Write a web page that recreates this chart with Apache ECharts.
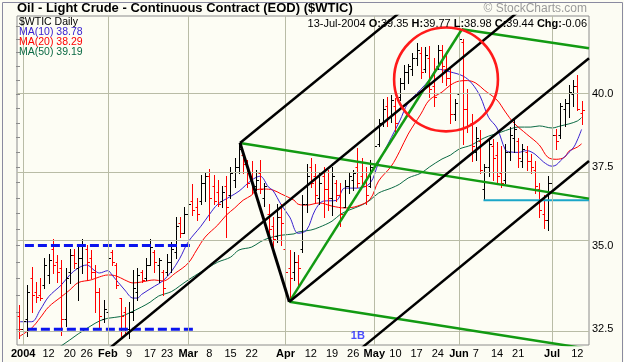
<!DOCTYPE html>
<html><head><meta charset="utf-8">
<script src="https://cdn.jsdelivr.net/npm/echarts@6/dist/echarts.min.js"></script>
<style>html,body{margin:0;padding:0;background:#fcfcf3}#c{width:624px;height:362px}</style>
</head><body><div id="c"></div>
<script>
// ---------- DATA ----------
const dates = ['12-31',
'01-02','01-05','01-06','01-07','01-08','01-09','01-12','01-13','01-14','01-15','01-16','01-20','01-21','01-22','01-23','01-26','01-27','01-28','01-29','01-30',
'02-02','02-03','02-04','02-05','02-06','02-09','02-10','02-11','02-12','02-13','02-17','02-18','02-19','02-20','02-23','02-24','02-25','02-26','02-27',
'03-01','03-02','03-03','03-04','03-05','03-08','03-09','03-10','03-11','03-12','03-15','03-16','03-17','03-18','03-19','03-22','03-23','03-24','03-25','03-26','03-29','03-30','03-31',
'04-01','04-02','04-05','04-06','04-07','04-08','04-12','04-13','04-14','04-15','04-16','04-19','04-20','04-21','04-22','04-23','04-26','04-27','04-28','04-29','04-30',
'05-03','05-04','05-05','05-06','05-07','05-10','05-11','05-12','05-13','05-14','05-17','05-18','05-19','05-20','05-21','05-24','05-25','05-26','05-27','05-28',
'06-01','06-02','06-03','06-04','06-07','06-08','06-09','06-10','06-11','06-14','06-15','06-16','06-17','06-18','06-21','06-22','06-23','06-24','06-25','06-28','06-29','06-30',
'07-01','07-02','07-06','07-07','07-08','07-09','07-12','07-13'];

const open = [32.9,32.5,32.8,34.0,33.6,33.5,33.8,34.1,34.9,34.5,34.3,32.8,34.2,34.7,34.3,34.6,34.9,34.6,34.2,33.6,32.8,
33.0,34.8,34.4,33.4,33.0,32.5,33.0,33.6,34.2,34.0,34.4,34.8,34.4,34.2,34.2,34.5,34.8,35.7,35.4,
36.0,36.4,36.2,36.4,37.0,37.2,36.9,36.7,36.4,36.9,36.6,37.1,37.5,37.9,37.6,37.2,36.9,37.3,36.5,36.0,35.6,35.3,35.9,
34.9,34.3,34.2,34.5,34.9,36.3,37.5,37.2,36.5,37.2,36.8,36.5,37.0,36.6,36.2,36.9,37.1,37.5,37.2,36.9,36.9,
37.6,38.3,39.0,39.6,39.2,39.6,39.9,40.4,40.8,40.9,41.3,41.5,40.9,41.3,40.3,41.0,41.6,40.9,40.6,39.3,
40.0,41.9,39.5,39.0,38.0,38.4,36.8,37.5,38.2,37.9,37.3,37.1,38.0,38.5,38.4,37.7,38.0,37.7,37.4,36.8,36.0,35.8,
37.0,38.6,38.6,39.5,39.7,40.0,40.3,39.35];
const high = [33.2,32.95,33.8,34.35,33.9,34.0,34.6,34.75,35.2,34.7,34.55,34.3,34.9,34.9,34.95,35.2,35.0,34.85,34.4,33.7,33.35,
35.0,34.85,34.45,33.4,33.15,33.3,34.25,34.3,34.25,34.6,35.2,34.85,34.6,34.25,34.75,35.1,35.9,35.9,36.2,
36.45,36.95,36.5,37.25,37.3,37.45,37.25,37.1,36.9,37.2,37.5,37.8,38.32,37.95,37.75,37.7,37.4,37.75,37.0,36.3,35.9,36.3,36.3,
34.95,34.85,34.8,34.7,36.6,37.6,37.8,37.6,37.3,37.5,37.4,37.5,37.1,37.0,37.1,37.35,37.4,38.15,37.8,37.5,37.75,
38.4,39.15,39.85,39.9,39.97,39.87,40.6,41.05,41.1,41.5,41.85,41.7,41.7,41.75,41.3,41.8,41.8,41.4,40.9,39.85,
42.35,42.0,40.2,39.3,38.85,38.75,37.6,38.5,38.45,38.35,38.2,38.3,38.85,39.1,38.5,38.3,38.2,37.95,37.7,37.0,36.6,37.2,
39.0,38.8,39.7,39.85,40.35,40.5,40.7,39.77];
const low = [32.26,32.3,32.3,33.0,33.3,33.35,33.7,33.85,34.15,33.9,32.35,32.6,33.85,34.3,33.35,34.15,33.95,34.0,33.0,32.55,32.7,
32.5,34.4,33.7,32.3,32.35,32.26,32.77,33.35,33.9,33.94,34.4,34.2,33.9,33.5,34.1,34.2,34.6,35.25,35.4,
35.7,35.95,35.8,36.3,36.4,35.8,36.3,36.25,36.2,35.25,36.5,36.85,37.3,37.3,36.85,36.65,36.75,36.65,36.25,35.2,34.95,35.1,35.0,
33.85,33.3,33.95,33.8,34.8,36.05,36.85,36.35,36.3,35.9,36.1,35.95,36.4,35.6,36.2,36.65,36.75,36.85,36.85,36.3,36.85,
37.5,38.2,38.9,38.9,39.05,38.6,39.8,40.2,40.4,40.7,41.05,40.6,40.8,39.9,39.6,40.9,40.45,40.35,39.0,39.1,
39.8,38.3,38.7,37.7,37.75,37.3,36.43,37.2,37.1,37.0,36.85,37.0,37.75,38.0,37.5,37.5,37.4,37.3,36.65,35.9,35.55,35.48,
36.9,38.1,38.5,38.9,39.2,39.6,39.45,38.98];
const close = [32.52,32.75,33.6,33.5,33.45,33.4,34.4,34.55,34.4,34.2,32.8,34.0,34.7,34.45,34.6,35.0,34.5,34.2,33.6,32.9,33.1,
34.6,34.5,33.8,32.9,32.5,33.0,33.7,34.1,33.95,34.4,34.95,34.5,34.55,33.7,34.5,34.9,35.6,35.4,36.0,
36.3,36.1,36.0,37.0,37.2,36.5,36.4,36.3,36.7,36.2,37.3,37.5,38.1,37.6,37.0,36.8,37.1,36.8,36.9,35.5,35.2,35.9,35.7,
34.2,34.0,34.5,34.3,36.3,37.2,37.0,36.6,37.0,36.8,36.5,37.2,36.6,36.0,36.9,37.2,37.3,37.0,36.9,36.6,37.5,
38.2,39.0,39.5,39.2,39.8,39.0,40.4,40.8,41.0,41.3,41.6,40.8,41.4,40.2,39.9,41.6,41.0,40.6,39.3,39.7,
42.0,39.5,38.9,38.2,38.5,37.4,37.5,38.3,37.8,37.2,37.0,38.0,38.6,38.8,37.8,38.1,37.7,37.5,36.9,36.1,35.8,37.0,
38.6,38.4,39.6,39.7,40.1,40.3,39.5,39.44];

const ma10Idx = [0,3,5,7,10,12,14,16,18,19,21,22,25,27,28,29,32,34,36,38,40,43,45,47,50,52,55,57,59,60,62,64,66,68,70,72,75,77,80,83,85,88,90,92,95,97,99,102,105,107,109,111,113,115,116,118,120,122,124,126,127,128,131,132,133];
const ma10Val = [32.72,32.72,33.06,33.45,33.80,34.10,34.31,34.40,34.22,34.16,34.23,34.10,33.65,33.41,33.41,33.52,33.76,33.92,34.20,34.60,35.11,35.60,35.97,36.30,36.55,36.72,37.08,37.21,36.85,36.75,36.28,35.89,35.38,35.48,36.11,36.40,36.42,36.82,36.82,36.98,37.65,38.50,39.07,39.70,40.18,40.51,40.90,40.80,40.65,40.40,39.94,39.20,38.83,38.08,38.02,38.00,38.06,37.94,37.68,37.54,37.58,37.72,38.15,38.42,38.78];
const ma20Idx = [0,3,5,7,10,12,14,17,19,21,23,25,27,29,32,34,37,40,42,44,47,49,51,53,55,56,58,60,62,65,66,68,71,74,77,80,83,85,88,90,92,95,97,100,102,104,106,108,110,113,115,117,120,123,125,127,129,130,132,133];
const ma20Val = [32.29,32.54,32.83,33.15,33.45,33.65,33.87,33.95,34.04,34.10,34.07,33.95,33.86,33.89,33.95,33.92,34.16,34.46,34.86,35.26,35.64,35.95,36.18,36.43,36.59,36.76,36.79,36.76,36.63,36.43,36.30,36.27,36.34,36.24,36.18,36.24,36.46,37.05,37.54,38.04,38.62,39.31,39.80,40.08,40.33,40.47,40.49,40.40,40.15,39.80,39.38,39.00,38.62,38.25,37.84,37.77,37.84,38.04,38.18,38.29];
const ma50Idx = [8,10,14,17,19,21,24,26,29,31,33,36,38,40,43,45,47,50,52,55,57,59,62,65,66,69,71,74,76,78,81,83,85,88,90,92,95,97,100,102,104,107,109,111,114,116,118,121,123,126,128,130,132,133];
const ma50Val = [31.92,32.03,32.37,32.60,32.74,32.82,32.87,32.97,33.15,33.29,33.47,33.60,33.77,33.95,34.19,34.34,34.49,34.64,34.86,34.95,35.11,35.23,35.32,35.36,35.42,35.48,35.57,35.76,35.98,36.11,36.27,36.43,36.66,36.82,36.95,37.15,37.31,37.51,37.78,37.91,38.11,38.25,38.42,38.55,38.69,38.79,38.86,38.86,38.90,38.83,38.90,38.97,39.07,39.19];

const tickDates = ['01-02','01-12','01-20','01-26','02-02','02-09','02-17','02-23','03-01','03-08','03-15','03-22','04-01','04-12','04-19','04-26','05-03','05-10','05-17','05-24','06-01','06-07','06-14','06-21','07-01','07-12'];
const tickText  = ['2004','12','20','26','Feb','9','17','23','Mar','8','15','22','Apr','12','19','26','May','10','17','24','Jun','7','14','21','Jul','12'];
const monthStarts = ['01-02','02-02','03-01','04-01','05-03','06-01','07-01'];
const yLabels = [32.5, 35.0, 37.5, 40.0];
const yMinor = [32.5,33,33.5,34,34.5,35,35.5,36,36.5,37,37.5,38,38.5,39,39.5,40,40.5,41,41.5,42,42.5];

// annotation anchors (bar index, price)
const pivotA = [52.25, 38.32], pivotB = [63.9, 33.30], pivotC = [104.7, 42.37];
const blackLines = [
  [pivotA, [90.07, 43.01]],
  [pivotB, [134.75, 41.30]],
  [[21.5, 31.97], [118.4, 43.08]],
  [[81.1, 31.98], [134.75, 37.71]]
];
const greenLines = [
  [pivotB, pivotC],
  [pivotA, [134.75, 36.48]],
  [pivotC, [134.75, 41.66]],
  [pivotB, [134.75, 31.94]]
];
const blueDashed = [[[1.4, 35.0], [40.9, 35.0]], [[2.1, 32.5], [41.8, 32.5]]];
const cyanLine = [[109.8, 36.43], [134.75, 36.43]];
const circleBox = [88.35, 113.55, 42.38, 38.76]; // left idx, right idx, top price, bottom price
const noteMark = [80.1, 32.3, '1B'];

// ---------- CHART ----------
const L = Math.log;
const FF = '"Liberation Sans", Arial, sans-serif';
const xMin = -0.47, xMax = 134.75, yMin = L(32.054), yMax = L(42.868);
const tickIdx = tickDates.map(d => dates.indexOf(d));
const monthIdx = monthStarts.map(d => dates.indexOf(d));
const bold = new Set(['2004','Feb','Mar','Apr','May','Jun','Jul']);

const ohlc = dates.map((d, i) => [i, L(open[i]), L(high[i]), L(low[i]), L(close[i]),
  i === 0 ? (close[0] < open[0] ? 1 : 0) : (close[i] < close[i - 1] ? 1 : 0)]);

function seg(pts, color, width, z, dash) {
  return {type: 'line', data: pts.map(p => [p[0], L(p[1])]), symbol: 'none', silent: true, clip: true,
    lineStyle: {color, width, type: dash || 'solid', cap: 'butt'}, z, animation: false};
}
function ma(idx, val, color) {
  return {type: 'line', data: idx.map((k, i) => [k, L(val[i])]), symbol: 'none', smooth: 0.35, silent: true,
    clip: true, lineStyle: {color, width: 1}, z: 2};
}

const series = [];
series.push({type: 'line', data: [], silent: true, z: 1,
  markLine: {silent: true, symbol: 'none', label: {show: false}, animation: false,
    lineStyle: {color: '#b9bca6', width: 1, type: 'solid'},
    data: yLabels.map(v => ({yAxis: L(v)})).concat(monthIdx.map(k => ({xAxis: k})))}});
series.push(ma(ma50Idx, ma50Val, '#0b6a44'));
series.push(ma(ma20Idx, ma20Val, '#ff0000'));
series.push(ma(ma10Idx, ma10Val, '#3a22d0'));
series.push({type: 'custom', data: ohlc, z: 3, silent: true, clip: true, encode: {x: 0, y: [1, 2, 3, 4]},
  renderItem: (params, api) => {
    const x = api.value(0);
    const h = api.coord([x, api.value(2)]), l = api.coord([x, api.value(3)]);
    const o = api.coord([x, api.value(1)]), c = api.coord([x, api.value(4)]);
    const col = api.value(5) ? '#ff0000' : '#000000';
    const px = Math.round(h[0]) + 0.5;
    const oy = Math.round(o[1]) + 0.5, cy = Math.round(c[1]) + 0.5;
    const st = {stroke: col, lineWidth: 1};
    return {type: 'group', children: [
      {type: 'line', shape: {x1: px, y1: Math.round(h[1]), x2: px, y2: Math.round(l[1]) + 1}, style: st},
      {type: 'line', shape: {x1: px - 2, y1: oy, x2: px, y2: oy}, style: st},
      {type: 'line', shape: {x1: px, y1: cy, x2: px + 2.5, y2: cy}, style: st}
    ]};
  }});
blueDashed.forEach(s => series.push(seg(s, '#0a14ee', 3, 4, [9, 4])));
series.push(seg(cyanLine, '#1aa6c8', 2, 4));
greenLines.forEach(s => series.push(seg(s, '#129a12', 2.5, 5)));
series.push(seg([pivotA, pivotB], '#000000', 3, 6));
blackLines.forEach(s => series.push(seg(s, '#000000', 2.5, 6)));
series.push({type: 'custom', data: [[circleBox[0], L(circleBox[2]), circleBox[1], L(circleBox[3])]], z: 7, silent: true,
  encode: {x: [0, 2], y: [1, 3]},
  renderItem: (params, api) => {
    const p1 = api.coord([api.value(0), api.value(1)]), p2 = api.coord([api.value(2), api.value(3)]);
    const r = ((p2[0] - p1[0]) + (p2[1] - p1[1])) / 4;
    return {type: 'circle', shape: {cx: (p1[0] + p2[0]) / 2, cy: (p1[1] + p2[1]) / 2, r},
      style: {fill: 'none', stroke: '#ff1a1a', lineWidth: 2.6}};
  }});
series.push({type: 'scatter', data: [[noteMark[0], L(noteMark[1])]], symbolSize: 0, silent: true, z: 8,
  label: {show: true, formatter: noteMark[2], color: '#1e22ff', fontWeight: 'bold', fontSize: 11, fontFamily: FF, position: 'inside'}});

const legendTop = [17, 27, 36.5, 46.5];
const option = {
  animation: false,
  backgroundColor: '#fcfcf3',
  grid: {left: 17, right: 35, top: 16, bottom: 17, show: true, borderColor: '#8c8c8c', borderWidth: 1, backgroundColor: '#fdfdf4'},
  xAxis: {type: 'value', min: xMin, max: xMax, splitLine: {show: false}, axisLine: {show: false}, axisTick: {show: false},
    axisLabel: {customValues: tickIdx, margin: 3, fontSize: 11, fontFamily: FF, color: '#000',
      formatter: v => { const t = tickText[tickIdx.indexOf(Math.round(v))]; return bold.has(t) ? '{b|' + t + '}' : t; },
      rich: {b: {fontWeight: 'bold', fontSize: 11, fontFamily: FF, color: '#000'}}}},
  yAxis: [
    {type: 'value', position: 'right', min: yMin, max: yMax, splitLine: {show: false}, axisLine: {show: false},
      axisTick: {show: true, inside: true, length: 3, customValues: yMinor.map(L), lineStyle: {color: '#8c8c8c'}},
      axisLabel: {customValues: yLabels.map(L), formatter: v => Math.exp(v).toFixed(1), margin: 3, fontSize: 11, fontFamily: FF, color: '#000'}},
    {type: 'value', position: 'left', min: yMin, max: yMax, splitLine: {show: false}, axisLine: {show: false},
      axisTick: {show: true, inside: true, length: 3, customValues: yMinor.map(L), lineStyle: {color: '#8c8c8c'}},
      axisLabel: {show: false}}
  ],
  graphic: [
    {type: 'rect', left: 0, top: 0, z: 30, silent: true, shape: {x: 0.5, y: 0.5, width: 620, height: 360},
      style: {fill: 'none', stroke: '#8a8aa0', lineWidth: 1}},
    {type: 'text', left: 17, top: 2, style: {text: 'Oil - Light Crude - Continuous Contract (EOD) ($WTIC)', font: 'bold 13px ' + FF, fill: '#000'}},
    {type: 'text', right: 37, top: 3, style: {text: '\u00a9 StockCharts.com', font: '12px ' + FF, fill: '#9a9a9a'}},
    {type: 'text', left: 19, top: legendTop[0], z: 20, style: {text: '$WTIC Daily', font: '10.5px ' + FF, fill: '#000'}},
    {type: 'text', left: 19, top: legendTop[1], z: 20, style: {text: 'MA(10) 38.78', font: '10.5px ' + FF, fill: '#3a22d0'}},
    {type: 'text', left: 19, top: legendTop[2], z: 20, style: {text: 'MA(20) 38.29', font: '10.5px ' + FF, fill: '#ff0000'}},
    {type: 'text', left: 19, top: legendTop[3], z: 20, style: {text: 'MA(50) 39.19', font: '10.5px ' + FF, fill: '#0b6a44'}},
    {type: 'text', right: 37, top: 18, z: 20, style: {
      text: '13-Jul-2004 {b|O:}39.35 {b|H:}39.77 {b|L:}38.98 {b|C:}39.44 {b|Chg:}-0.06',
      font: '11px ' + FF, fill: '#000', rich: {b: {fontWeight: 'bold', fontSize: 11, fontFamily: FF, fill: '#000'}}}}
  ],
  series
};
const chart = echarts.init(document.getElementById('c'), null, {renderer: 'canvas'});
chart.setOption(option);
</script></body></html>
